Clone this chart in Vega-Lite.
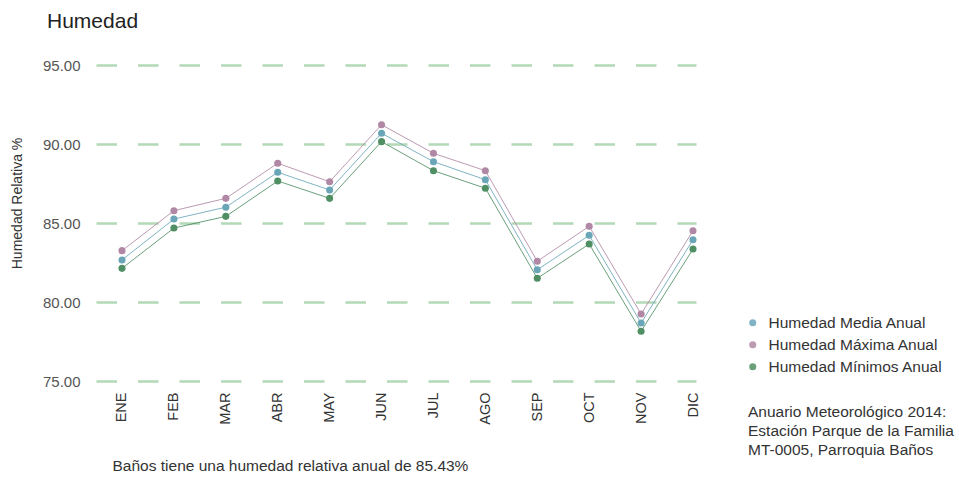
{
  "$schema": "https://vega.github.io/schema/vega-lite/v6.json",
  "autosize": "none",
  "width": 600,
  "height": 316,
  "padding": {"left": 96, "top": 65, "right": 263, "bottom": 96},
  "background": "white",
  "title": {"text": "Humedad", "anchor": "start", "frame": "group", "dx": -49, "offset": 9, "baseline": "alphabetic", "fontSize": 21, "fontWeight": "normal", "font": "Liberation Sans", "color": "#222"},
  "data": {"values": [
    {"mes": "ENE", "serie": "Humedad Media Anual", "valor": 82.66},
    {"mes": "FEB", "serie": "Humedad Media Anual", "valor": 85.25},
    {"mes": "MAR", "serie": "Humedad Media Anual", "valor": 86.0},
    {"mes": "ABR", "serie": "Humedad Media Anual", "valor": 88.21},
    {"mes": "MAY", "serie": "Humedad Media Anual", "valor": 87.09},
    {"mes": "JUN", "serie": "Humedad Media Anual", "valor": 90.68},
    {"mes": "JUL", "serie": "Humedad Media Anual", "valor": 88.88},
    {"mes": "AGO", "serie": "Humedad Media Anual", "valor": 87.74},
    {"mes": "SEP", "serie": "Humedad Media Anual", "valor": 82.04},
    {"mes": "OCT", "serie": "Humedad Media Anual", "valor": 84.22},
    {"mes": "NOV", "serie": "Humedad Media Anual", "valor": 78.67},
    {"mes": "DIC", "serie": "Humedad Media Anual", "valor": 83.94},
    {"mes": "ENE", "serie": "Humedad Máxima Anual", "valor": 83.25},
    {"mes": "FEB", "serie": "Humedad Máxima Anual", "valor": 85.78},
    {"mes": "MAR", "serie": "Humedad Máxima Anual", "valor": 86.56},
    {"mes": "ABR", "serie": "Humedad Máxima Anual", "valor": 88.78},
    {"mes": "MAY", "serie": "Humedad Máxima Anual", "valor": 87.61},
    {"mes": "JUN", "serie": "Humedad Máxima Anual", "valor": 91.22},
    {"mes": "JUL", "serie": "Humedad Máxima Anual", "valor": 89.41},
    {"mes": "AGO", "serie": "Humedad Máxima Anual", "valor": 88.31},
    {"mes": "SEP", "serie": "Humedad Máxima Anual", "valor": 82.58},
    {"mes": "OCT", "serie": "Humedad Máxima Anual", "valor": 84.79},
    {"mes": "NOV", "serie": "Humedad Máxima Anual", "valor": 79.24},
    {"mes": "DIC", "serie": "Humedad Máxima Anual", "valor": 84.51},
    {"mes": "ENE", "serie": "Humedad Mínimos Anual", "valor": 82.13},
    {"mes": "FEB", "serie": "Humedad Mínimos Anual", "valor": 84.68},
    {"mes": "MAR", "serie": "Humedad Mínimos Anual", "valor": 85.42},
    {"mes": "ABR", "serie": "Humedad Mínimos Anual", "valor": 87.66},
    {"mes": "MAY", "serie": "Humedad Mínimos Anual", "valor": 86.56},
    {"mes": "JUN", "serie": "Humedad Mínimos Anual", "valor": 90.15},
    {"mes": "JUL", "serie": "Humedad Mínimos Anual", "valor": 88.31},
    {"mes": "AGO", "serie": "Humedad Mínimos Anual", "valor": 87.2},
    {"mes": "SEP", "serie": "Humedad Mínimos Anual", "valor": 81.5},
    {"mes": "OCT", "serie": "Humedad Mínimos Anual", "valor": 83.67},
    {"mes": "NOV", "serie": "Humedad Mínimos Anual", "valor": 78.15},
    {"mes": "DIC", "serie": "Humedad Mínimos Anual", "valor": 83.35}
  ]},
  "encoding": {
    "x": {
      "field": "mes", "type": "ordinal",
      "sort": ["ENE","FEB","MAR","ABR","MAY","JUN","JUL","AGO","SEP","OCT","NOV","DIC"],
      "scale": {"type": "point", "padding": 0.2793, "align": 0.8966},
      "axis": {
        "title": "Baños tiene una humedad relativa anual de 85.43%",
        "titleX": 16, "titleY": 84, "titleAlign": "left", "titleAnchor": null, "titleBaseline": "middle",
        "titleFontSize": 15.5, "titleFontWeight": "normal", "titleColor": "#333", "titleFont": "Liberation Sans",
        "labelAngle": 270, "labelAlign": "right", "labelBaseline": "middle", "labelPadding": 11,
        "labelFontSize": 14.5, "labelColor": "#333", "labelFont": "Liberation Sans",
        "domain": false, "ticks": false, "tickSize": 0, "grid": false
      }
    },
    "y": {
      "field": "valor", "type": "quantitative",
      "scale": {"domain": [75, 95], "nice": false, "zero": false},
      "axis": {
        "title": "Humedad Relativa %",
        "titleX": -79, "titleY": 138, "titleAngle": 270, "titleAlign": "center", "titleBaseline": "middle", "titleAnchor": null,
        "titleFontSize": 14, "titleFontWeight": "normal", "titleColor": "#333", "titleFont": "Liberation Sans",
        "values": [75, 80, 85, 90, 95], "format": ".2f",
        "labelFontSize": 15, "labelColor": "#555", "labelFont": "Liberation Sans", "labelPadding": 16,
        "domain": false, "ticks": false, "tickSize": 0,
        "grid": true, "gridColor": "#b3d9b7", "gridWidth": 2.5, "gridDash": [20.5, 21], "gridOpacity": 1
      }
    },
    "color": {
      "field": "serie", "type": "nominal",
      "scale": {"domain": ["Humedad Media Anual", "Humedad Máxima Anual", "Humedad Mínimos Anual"], "range": ["#6aa6b8", "#b088a5", "#4f8f63"]},
      "legend": {
        "orient": "none", "legendX": 652, "legendY": 250,
        "title": ["Anuario Meteorológico 2014:", "Estación Parque de la Familia", "MT-0005, Parroquia Baños"],
        "titleOrient": "bottom", "titleAnchor": "start", "titleAlign": "left", "titleFontSize": 15.5, "titleFontWeight": "normal",
        "titleColor": "#333", "titleFont": "Liberation Sans", "titleLineHeight": 19, "titlePadding": 30, "titleLimit": 300,
        "labelFontSize": 15.5, "labelColor": "#333", "labelFont": "Liberation Sans", "labelOffset": 8, "labelLimit": 300,
        "symbolType": "circle", "symbolSize": 50, "symbolStrokeWidth": 0, "symbolOffset": -3, "rowPadding": 5, "padding": 0
      }
    }
  },
  "layer": [
    {"mark": {"type": "line", "strokeWidth": 1, "opacity": 0.85}},
    {"mark": {"type": "point", "filled": true, "size": 50, "opacity": 1}}
  ],
  "config": {"view": {"stroke": null}, "font": "Liberation Sans"}
}
